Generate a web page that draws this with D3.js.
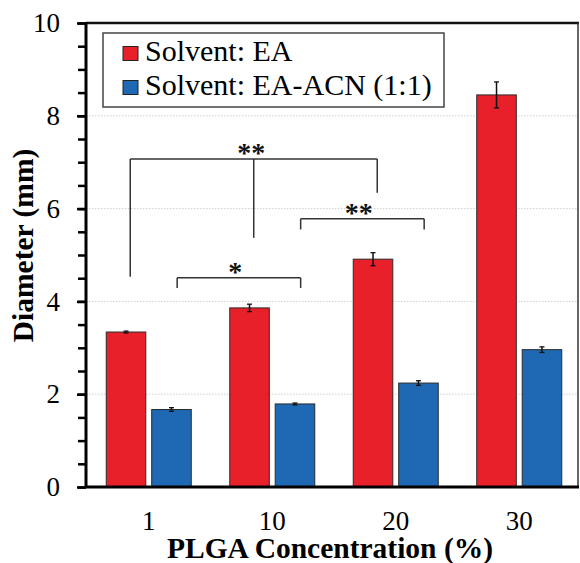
<!DOCTYPE html>
<html>
<head>
<meta charset="utf-8">
<script src="https://cdn.jsdelivr.net/npm/d3@7"></script>
<style>
  html, body { margin: 0; padding: 0; background: #fff; }
  svg { display: block; }
  svg text { font-family: "Liberation Serif", "Times New Roman", Tinos, Times, "DejaVu Serif", serif; }
</style>
</head>
<body>
<svg id="chart" width="580" height="563"></svg>
<script>
// ---- data ----
const categories = ["1", "10", "20", "30"];
const seriesNames = ["Solvent: EA", "Solvent: EA-ACN (1:1)"];
const eaValues = [3.34, 3.86, 4.91, 8.45];
const eaErrors = [0.02, 0.08, 0.14, 0.28];
const mixValues = [1.67, 1.79, 2.24, 2.96];
const mixErrors = [0.04, 0.02, 0.05, 0.06];
const yTicksMajor = [0, 2, 4, 6, 8, 10];
const yGridValues = [2, 4, 6, 8];
// significance brackets: x in category-index units, y in data units
const brackets = [
  { label: "**", legs: [-0.15, 0.85, 1.85], top: 7.07, ends: [4.53, 5.37, 6.34], labelX: 0.83 },
  { label: "*",  legs: [0.23, 1.23], top: 4.51, ends: [4.29, 4.29], labelX: 0.70 },
  { label: "**", legs: [1.23, 2.23], top: 5.78, ends: [5.55, 5.55], labelX: 1.70 }
];

const colors = ["#e8202a", "#1f69b4"];

const svg = d3.select("#chart");
const plotL = 86, plotR = 578, plotT = 23, plotB = 487;

const y = d3.scaleLinear().domain([0, 10]).range([plotB, plotT]);
const x0 = d3.scaleBand().domain(categories).range([87, 581]).paddingInner(0).paddingOuter(0);
const x1 = d3.scaleBand().domain(seriesNames).range([-42.5, 42.5]).paddingInner(0.13);
const xIdx = d3.scaleLinear().domain([0, 3])
  .range([x0(categories[0]) + x0.bandwidth() / 2, x0(categories[3]) + x0.bandwidth() / 2]);

const rows = categories.map((c, i) => ({
  cat: c,
  vals: [
    { s: seriesNames[0], v: eaValues[i], e: eaErrors[i], k: 0 },
    { s: seriesNames[1], v: mixValues[i], e: mixErrors[i], k: 1 }
  ]
}));

// gridlines
svg.append("g").selectAll("line").data(yGridValues).join("line")
  .attr("x1", plotL).attr("x2", plotR)
  .attr("y1", d => y(d)).attr("y2", d => y(d))
  .attr("stroke", "#cfcfcf").attr("stroke-width", 1).attr("stroke-dasharray", "1.5,1.5");

// bars
const groups = svg.append("g").selectAll("g").data(rows).join("g")
  .attr("transform", d => `translate(${x0(d.cat) + x0.bandwidth() / 2},0)`);

groups.selectAll("rect").data(d => d.vals).join("rect")
  .attr("x", d => x1(d.s))
  .attr("width", x1.bandwidth())
  .attr("y", d => y(d.v))
  .attr("height", d => y(0) - y(d.v))
  .attr("fill", d => colors[d.k])
  .attr("stroke", "#2a2a2a").attr("stroke-width", 1);

// error bars
const eb = groups.selectAll("g.err").data(d => d.vals).join("g").attr("class", "err");
eb.append("line")
  .attr("x1", d => x1(d.s) + x1.bandwidth() / 2).attr("x2", d => x1(d.s) + x1.bandwidth() / 2)
  .attr("y1", d => y(d.v + d.e)).attr("y2", d => y(d.v - d.e))
  .attr("stroke", "#111").attr("stroke-width", 1.5);
eb.selectAll("line.cap").data(d => [{ d, v: d.v + d.e }, { d, v: d.v - d.e }]).join("line")
  .attr("class", "cap")
  .attr("x1", o => x1(o.d.s) + x1.bandwidth() / 2 - 2.5)
  .attr("x2", o => x1(o.d.s) + x1.bandwidth() / 2 + 2.5)
  .attr("y1", o => y(o.v)).attr("y2", o => y(o.v))
  .attr("stroke", "#111").attr("stroke-width", 1.3);

// frame top/right
svg.append("line").attr("x1", plotL).attr("x2", plotR + 1).attr("y1", plotT).attr("y2", plotT)
  .attr("stroke", "#111").attr("stroke-width", 2.5);
svg.append("line").attr("x1", plotR).attr("x2", plotR).attr("y1", plotT).attr("y2", plotB)
  .attr("stroke", "#333").attr("stroke-width", 1.5);

// y axis with minor ticks
const yAxisMinor = d3.axisLeft(y).tickValues(d3.range(0, 10.01, 0.5)).tickSize(8).tickFormat("");
const gMinor = svg.append("g").attr("transform", `translate(${plotL},0)`).call(yAxisMinor);
gMinor.select(".domain").remove();
gMinor.selectAll(".tick line").attr("stroke", "#000").attr("stroke-width", 2.5);

const yAxis = d3.axisLeft(y).tickValues(yTicksMajor).tickSize(9).tickPadding(17).tickFormat(d3.format("d"));
const gy = svg.append("g").attr("transform", `translate(${plotL},0)`).call(yAxis);
gy.attr("font-family", null);
gy.select(".domain").attr("stroke", "#000").attr("stroke-width", 3).attr("d", `M0,${plotT - 1}V${plotB + 1}`);
gy.selectAll(".tick line").attr("stroke", "#000").attr("stroke-width", 2.5);
gy.selectAll(".tick text").attr("font-size", 27).attr("fill", "#000");

// x axis
const xAxis = d3.axisBottom(x0).tickSize(0).tickPadding(24);
const gx = svg.append("g").attr("transform", `translate(0,${plotB})`).call(xAxis);
gx.attr("font-family", null);
gx.select(".domain").attr("stroke", "#000").attr("stroke-width", 3).attr("d", `M${plotL - 1},0H${plotR + 1}`);
gx.selectAll(".tick text").attr("font-size", 27).attr("fill", "#000");

// brackets
const bg = svg.append("g");
brackets.forEach(b => {
  const xl = xIdx(b.legs[0]), xr = xIdx(b.legs[b.legs.length - 1]);
  bg.append("line").attr("x1", xl).attr("x2", xr).attr("y1", y(b.top)).attr("y2", y(b.top))
    .attr("stroke", "#333").attr("stroke-width", 1.5);
  b.legs.forEach((lx, i) => {
    bg.append("line").attr("x1", xIdx(lx)).attr("x2", xIdx(lx))
      .attr("y1", y(b.top)).attr("y2", y(b.ends[i]))
      .attr("stroke", "#333").attr("stroke-width", 1.5);
  });
  bg.append("text").attr("x", xIdx(b.labelX)).attr("y", y(b.top) + 3)
    .attr("text-anchor", "middle").attr("font-weight", "bold")
    .attr("font-size", 28).attr("fill", "#111").text(b.label);
});

// legend
const lg = svg.append("g");
lg.append("rect").attr("x", 103).attr("y", 33).attr("width", 341).attr("height", 74)
  .attr("fill", "#fff").attr("stroke", "#444").attr("stroke-width", 1.5);
seriesNames.forEach((s, i) => {
  lg.append("rect").attr("x", 123).attr("y", 46.5 + i * 34).attr("width", 15).attr("height", 14)
    .attr("fill", colors[i]).attr("stroke", "#222").attr("stroke-width", 1);
  lg.append("text").attr("x", 145).attr("y", 61 + i * 34)
    .attr("font-size", 30).attr("fill", "#000").text(s);
});

// axis titles
svg.append("text").attr("x", 330).attr("y", 558).attr("text-anchor", "middle")
  .attr("font-weight", "bold").attr("font-size", 29.5).attr("fill", "#000")
  .text("PLGA Concentration (%)");
svg.append("text").attr("transform", "translate(33,245.5) rotate(-90)").attr("text-anchor", "middle")
  .attr("font-weight", "bold").attr("font-size", 29.5).attr("fill", "#000")
  .text("Diameter (mm)");
</script>
</body>
</html>
